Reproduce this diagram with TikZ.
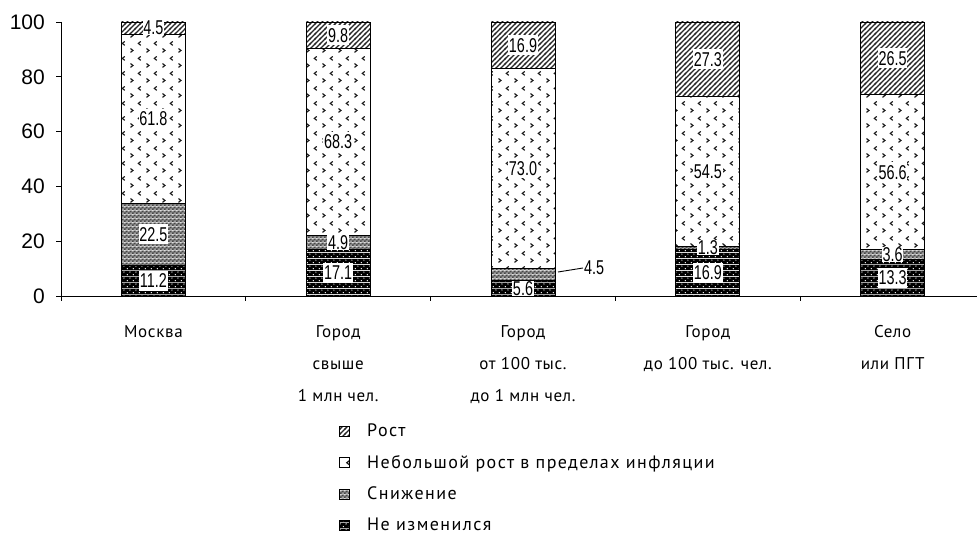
\documentclass[tikz,border=0pt]{standalone}
\usepackage{fontspec}
\setmainfont{Liberation Sans}
\newfontfamily\catfont[LetterSpace=4]{PT Sans}
\newfontfamily\legfont[LetterSpace=8]{PT Sans}
\usetikzlibrary{patterns}

\pgfdeclarepatternformonly{myhatch}{\pgfqpoint{-1pt}{-1pt}}{\pgfqpoint{6pt}{6pt}}{\pgfqpoint{5pt}{5pt}}{%
  \pgfsetlinewidth{1.1pt}%
  \pgfpathmoveto{\pgfqpoint{-1pt}{-1pt}}\pgfpathlineto{\pgfqpoint{6pt}{6pt}}%
  \pgfusepath{stroke}}
\pgfdeclarepatternformonly{mychev}{\pgfqpoint{0pt}{0pt}}{\pgfqpoint{16pt}{15pt}}{\pgfqpoint{16pt}{15pt}}{%
  \pgfsetlinewidth{1.2pt}%
  \pgfpathmoveto{\pgfqpoint{2.6pt}{5.8pt}}\pgfpathlineto{\pgfqpoint{5.2pt}{3.75pt}}\pgfpathlineto{\pgfqpoint{2.6pt}{1.7pt}}%
  \pgfpathmoveto{\pgfqpoint{13.4pt}{13.3pt}}\pgfpathlineto{\pgfqpoint{10.8pt}{11.25pt}}\pgfpathlineto{\pgfqpoint{13.4pt}{9.2pt}}%
  \pgfusepath{stroke}}
\pgfdeclarepatterninherentlycolored{mychecker}{\pgfqpoint{0pt}{0pt}}{\pgfqpoint{4pt}{4pt}}{\pgfqpoint{4pt}{4pt}}{%
  \pgfsetfillcolor{black!38}%
  \pgfpathrectangle{\pgfqpoint{0pt}{0pt}}{\pgfqpoint{4pt}{4pt}}\pgfusepath{fill}%
  \pgfsetfillcolor{black!72}%
  \pgfpathrectangle{\pgfqpoint{0pt}{0pt}}{\pgfqpoint{2pt}{2pt}}%
  \pgfpathrectangle{\pgfqpoint{2pt}{2pt}}{\pgfqpoint{2pt}{2pt}}%
  \pgfusepath{fill}}
\pgfdeclarepatterninherentlycolored{mydots}{\pgfqpoint{0pt}{0pt}}{\pgfqpoint{6pt}{6pt}}{\pgfqpoint{6pt}{6pt}}{%
  \pgfsetfillcolor{black}%
  \pgfpathrectangle{\pgfqpoint{0pt}{0pt}}{\pgfqpoint{6pt}{6pt}}\pgfusepath{fill}%
  \pgfsetfillcolor{white}%
  \pgfpathcircle{\pgfqpoint{1.5pt}{1.5pt}}{0.75pt}%
  \pgfpathcircle{\pgfqpoint{4.5pt}{4.5pt}}{0.75pt}%
  \pgfusepath{fill}}

\newcommand\drawbar[5]{% center x, no change, decrease, small growth, growth
  \pgfmathsetmacro\ya{296-2.74*#2}%
  \pgfmathsetmacro\yb{296-2.74*(#2+#3)}%
  \pgfmathsetmacro\yc{296-2.74*(#2+#3+#4)}%
  \draw[seg, pattern=mydots] (#1-32,296) rectangle (#1+32,\ya);
  \draw[seg, pattern=mychecker] (#1-32,\ya) rectangle (#1+32,\yb);
  \draw[seg, pattern=mychev, pattern color=black!90] (#1-32,\yb) rectangle (#1+32,\yc);
  \draw[seg, pattern=myhatch, pattern color=black!85] (#1-32,\yc) rectangle (#1+32,22);
}

\begin{document}
\begin{tikzpicture}[x=1pt,y=-1pt,
  seg/.style={draw=black, line width=0.8pt},
  axis/.style={draw=black, line width=0.9pt},
  vlab/.style={fill=white, inner xsep=0.8pt, inner ysep=0pt, minimum height=20pt,
     font=\fontsize{20}{20}\selectfont},
  ylab/.style={anchor=east, inner sep=0pt, font=\fontsize{21}{21}\selectfont},
  catlab/.style={anchor=base, inner sep=0pt, font=\catfont\fontsize{17}{17}\selectfont},
  leglab/.style={anchor=base west, inner sep=0pt, font=\legfont\fontsize{18}{18}\selectfont},
  legbox/.style={draw=black, line width=0.6pt, minimum size=10pt, inner sep=0pt}]
\useasboundingbox (0,0) rectangle (977,534);

% bars
\drawbar{153.4}{11.2}{22.5}{61.8}{4.5}
\drawbar{338.2}{17.1}{4.9}{68.3}{9.8}
\drawbar{523.0}{5.6}{4.5}{73.0}{16.9}
\drawbar{707.8}{16.9}{1.3}{54.5}{27.3}
\drawbar{892.6}{13.3}{3.6}{56.6}{26.5}

% axes
\draw[axis] (56,296) -- (977,296);
\draw[axis] (61,22) -- (61,301);
\foreach \k in {1,2,3,4} \draw[axis] ({61+184.8*\k},296) -- ({61+184.8*\k},301);
\foreach \v/\n in {0/y0,20/y20,40/y40,60/y60,80/y80,100/y100} {
  \draw[axis] (56,{296-2.74*\v}) -- (61,{296-2.74*\v});
  \node[ylab] (\n) at (45,{296-2.74*\v}) {\v};
}

% value labels
\newcommand\vl[1]{\scalebox{0.72}[1]{#1}}
\node[vlab] (m1) at (153.4,280.7) {\vl{11.2}};
\node[vlab] (m2) at (153.4,234.5) {\vl{22.5}};
\node[vlab] (m3) at (153.4,119.0) {\vl{61.8}};
\node[vlab, minimum height=12pt] (m4) at (153.4,28.2) {\vl{4.5}};

\node[vlab] (a1) at (338.2,272.6) {\vl{17.1}};
\node[vlab, minimum height=15pt] (a2) at (338.2,242.4) {\vl{4.9}};
\node[vlab] (a3) at (338.2,142.1) {\vl{68.3}};
\node[vlab] (a4) at (338.2,35.4) {\vl{9.8}};

\node[vlab, minimum height=15pt] (b1) at (523.0,288.3) {\vl{5.6}};
\node[vlab] (b3) at (523.0,168.3) {\vl{73.0}};
\node[vlab] (b4) at (523.0,45.2) {\vl{16.9}};
\coordinate (b2s) at (558,272);
\node[inner sep=1pt, font=\fontsize{20}{20}\selectfont, anchor=west] (b2) at (583,268) {\vl{4.5}};
\draw[line width=0.9pt] (b2s) -- (b2.west);

\node[vlab] (c1) at (707.8,272.8) {\vl{16.9}};
\node[vlab, minimum height=15pt] (c2) at (707.8,247.9) {\vl{1.3}};
\node[vlab] (c3) at (707.8,171.5) {\vl{54.5}};
\node[vlab] (c4) at (707.8,59.4) {\vl{27.3}};

\node[vlab] (d1) at (892.6,277.8) {\vl{13.3}};
\node[vlab, minimum height=15pt] (d2) at (892.6,254.6) {\vl{3.6}};
\node[vlab] (d3) at (892.6,172.2) {\vl{56.6}};
\node[vlab] (d4) at (892.6,58.3) {\vl{26.5}};

% category labels
\node[catlab] (k1a) at (153.4,338) {Москва};
\node[catlab] (k2a) at (338.2,338) {Город};
\node[catlab] (k2b) at (338.2,369.5) {свыше};
\node[catlab] (k2c) at (338.2,401) {1 млн чел.};
\node[catlab] (k3a) at (523.0,338) {Город};
\node[catlab] (k3b) at (523.0,369.5) {от 100 тыс.};
\node[catlab] (k3c) at (523.0,401) {до 1 млн чел.};
\node[catlab] (k4a) at (707.8,338) {Город};
\node[catlab] (k4b) at (707.8,369.5) {до 100 тыс. чел.};
\node[catlab] (k5a) at (892.6,338) {Село};
\node[catlab] (k5b) at (892.6,369.5) {или ПГТ};

% legend
\node[legbox, pattern=myhatch, pattern color=black!85] (g1) at (344,431) {};
\node[legbox, pattern=mychev, pattern color=black!90] (g2) at (344,462.5) {};
\node[legbox, pattern=mychecker] (g3) at (344,494) {};
\node[legbox, pattern=mydots] (g4) at (344,525) {};
\node[leglab] (t1) at (367,436.5) {Рост};
\node[leglab] (t2) at (367,468) {Небольшой рост в пределах инфляции};
\node[leglab] (t3) at (367,499.5) {Снижение};
\node[leglab] (t4) at (367,530) {Не изменился};
\end{tikzpicture}
\end{document}
